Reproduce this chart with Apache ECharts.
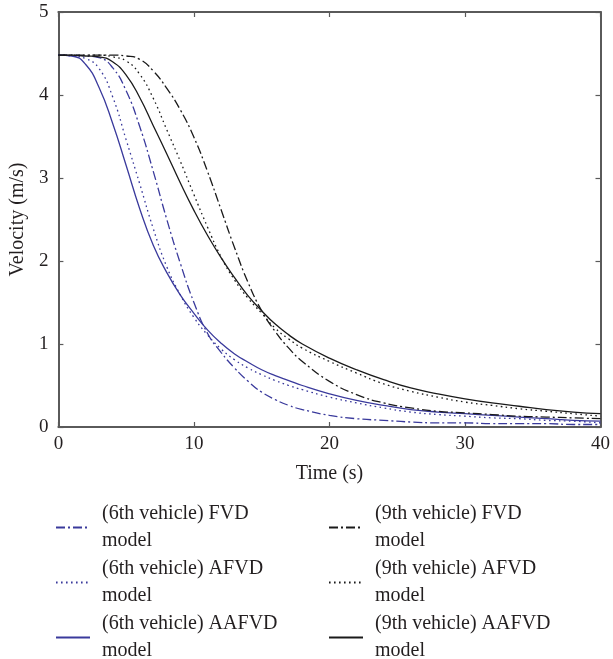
<!DOCTYPE html>
<html>
<head>
<meta charset="utf-8">
<script src="https://cdn.jsdelivr.net/npm/echarts@6/dist/echarts.min.js"></script>
<style>html,body{margin:0;padding:0;background:#fff;}#c{width:613px;height:659px;}</style>
</head>
<body>
<div id="c"></div>
<script>
const time = [0,1,2,3,4,5,6,7,8,9,10,11,12,13,14,15,16,17,18,20,22,24,26,28,30,32,34,36,38,40];
const fvd6   = [4.48,4.48,4.47,4.45,4.33,4.05,3.62,3.08,2.50,1.97,1.50,1.13,0.90,0.71,0.55,0.42,0.33,0.26,0.21,0.14,0.10,0.08,0.06,0.05,0.05,0.04,0.04,0.04,0.03,0.03];
const afvd6  = [4.48,4.47,4.44,4.32,3.98,3.46,2.93,2.39,1.93,1.59,1.32,1.11,0.94,0.81,0.71,0.63,0.56,0.50,0.45,0.36,0.29,0.23,0.18,0.15,0.13,0.11,0.10,0.08,0.07,0.05];
const aafvd6 = [4.48,4.47,4.37,4.09,3.66,3.15,2.63,2.19,1.86,1.59,1.37,1.17,1.01,0.88,0.78,0.69,0.62,0.56,0.50,0.40,0.32,0.26,0.21,0.18,0.16,0.14,0.12,0.10,0.08,0.07];
const fvd9   = [4.48,4.48,4.48,4.48,4.48,4.47,4.43,4.29,4.08,3.82,3.49,3.08,2.62,2.16,1.74,1.40,1.15,0.95,0.79,0.55,0.39,0.29,0.23,0.19,0.17,0.15,0.13,0.12,0.11,0.10];
const afvd9  = [4.48,4.48,4.48,4.48,4.46,4.41,4.25,3.96,3.58,3.20,2.80,2.41,2.05,1.77,1.55,1.37,1.19,1.06,0.95,0.79,0.65,0.52,0.43,0.36,0.30,0.26,0.22,0.19,0.16,0.13];
const aafvd9 = [4.48,4.48,4.47,4.46,4.40,4.24,3.97,3.63,3.29,2.94,2.61,2.31,2.04,1.80,1.58,1.40,1.24,1.11,1.00,0.83,0.69,0.57,0.47,0.40,0.34,0.29,0.25,0.21,0.18,0.16];
const seriesNames = ['(6th vehicle) FVD model','(6th vehicle) AFVD model','(6th vehicle) AAFVD model','(9th vehicle) FVD model','(9th vehicle) AFVD model','(9th vehicle) AAFVD model'];
const seriesValues = [fvd6, afvd6, aafvd6, fvd9, afvd9, aafvd9];
const xTicks = [0,10,20,30,40];
const yTicks = [0,1,2,3,4,5];

const BLUE = '#3a3a9c', BLACK = '#1a1a1a', TXT = '#231f20', AX = '#5a5a5a';
const FONT = 'Liberation Serif';
const styles = [
  {color: BLUE, type: [9,3,2,3]},
  {color: BLUE, type: [1.6,3.4]},
  {color: BLUE, type: 'solid'},
  {color: BLACK, type: [9,3,2,3]},
  {color: BLACK, type: [1.6,3.4]},
  {color: BLACK, type: 'solid'}
];

const series = seriesValues.map((vals, i) => ({
  name: seriesNames[i],
  type: 'line',
  data: time.map((t, k) => [t, vals[k]]),
  smooth: 0.5,
  showSymbol: false,
  symbol: 'none',
  lineStyle: {color: styles[i].color, type: styles[i].type, width: 1.3},
  itemStyle: {color: styles[i].color},
  xAxisIndex: 0, yAxisIndex: 0
}));

const legendPos = [
  {left: 55, top: 487}, {left: 55, top: 542}, {left: 55, top: 597},
  {left: 328, top: 487}, {left: 328, top: 542}, {left: 328, top: 597}
];
const legends = seriesNames.map((n, i) => ({
  data: [n],
  left: legendPos[i].left, top: legendPos[i].top,
  padding: 0,
  itemWidth: 34, itemHeight: 14,
  orient: 'vertical',
  selectedMode: false,
  itemStyle: {opacity: 0, color: 'transparent', borderWidth: 0},
  formatter: name => name.replace(' model', '\nmodel'),
  textStyle: {fontFamily: FONT, fontSize: 20, color: TXT, lineHeight: 27, padding: [27, 0, 0, 7]}
}));

const tickLabel = {fontFamily: FONT, fontSize: 19, color: TXT};
const axLine = {onZero: false, lineStyle: {color: AX, width: 2}};
const axTick = {inside: true, length: 5, lineStyle: {color: AX, width: 1.2}};
const chart = echarts.init(document.getElementById('c'), null, {renderer: 'canvas'});
chart.setOption({
  animation: false,
  backgroundColor: '#fff',
  grid: {left: 55, right: 12, top: 12, bottom: 232},
  legend: legends,
  xAxis: [
    {type: 'value', min: xTicks[0], max: xTicks[xTicks.length-1], interval: 10, position: 'bottom',
     name: 'Time (s)', nameLocation: 'middle', nameGap: 37,
     nameTextStyle: {fontFamily: FONT, fontSize: 20, color: TXT},
     axisLine: axLine, axisTick: axTick,
     axisLabel: Object.assign({margin: 8}, tickLabel),
     splitLine: {show: false}},
    {type: 'value', min: xTicks[0], max: xTicks[xTicks.length-1], interval: 10, position: 'top',
     axisLine: axLine, axisTick: axTick,
     axisLabel: {show: false}, splitLine: {show: false}}
  ],
  yAxis: [
    {type: 'value', min: yTicks[0], max: yTicks[yTicks.length-1], interval: 1, position: 'left',
     name: 'Velocity (m/s)', nameLocation: 'middle', nameGap: 30,
     nameTextStyle: {fontFamily: FONT, fontSize: 20, color: TXT},
     axisLine: axLine, axisTick: axTick,
     axisLabel: Object.assign({margin: 10}, tickLabel),
     splitLine: {show: false}},
    {type: 'value', min: yTicks[0], max: yTicks[yTicks.length-1], interval: 1, position: 'right',
     axisLine: axLine, axisTick: axTick,
     axisLabel: {show: false}, splitLine: {show: false}}
  ],
  series: series
});
</script>
</body>
</html>
